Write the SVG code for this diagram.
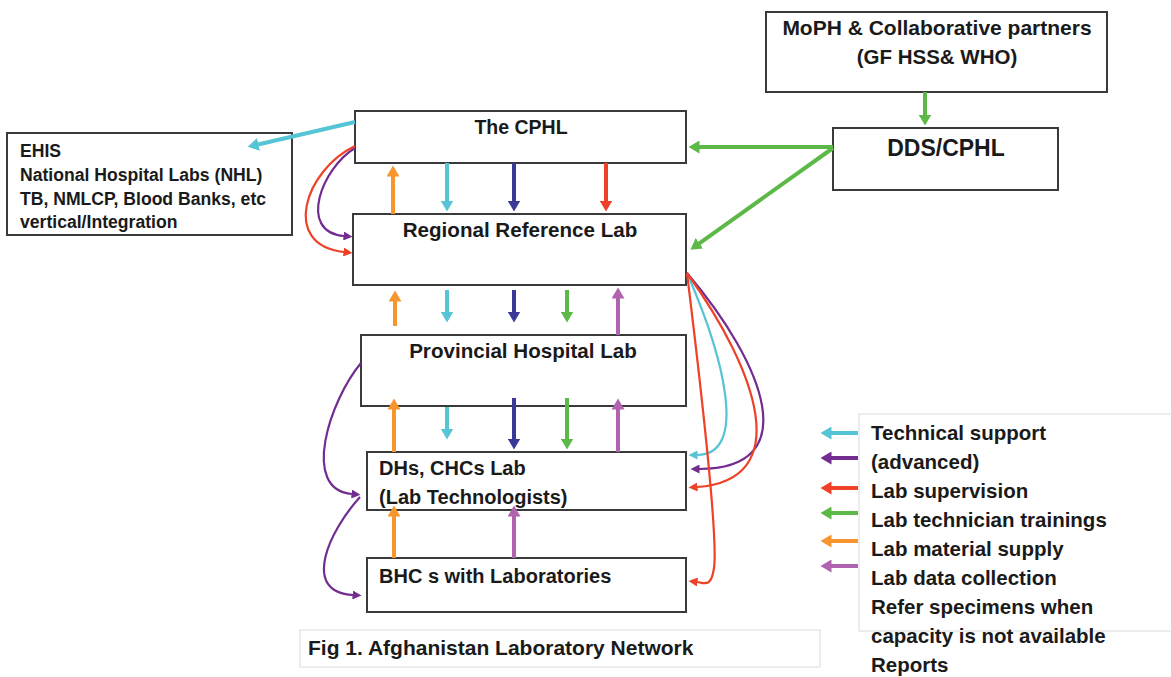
<svg xmlns="http://www.w3.org/2000/svg" width="1171" height="677" viewBox="0 0 1171 677">
<style>
text{font-family:"Liberation Sans",Arial,sans-serif;font-weight:bold;fill:#1a1a1a}
.box{fill:#fff;stroke:#3a3a3a;stroke-width:2}
.lbox{fill:#fff;stroke:#dcdcdc;stroke-width:1}
.t{stroke-width:4;fill:none}
.c{stroke-width:2.2;fill:none}
.or{stroke:#F7962F}.cy{stroke:#55C4D5}.nv{stroke:#393A97}.rd{stroke:#EE4127}.gr{stroke:#5DB947}.lp{stroke:#B064B0}.dp{stroke:#732C8F}
</style>
<defs>
<marker id="hor" markerUnits="userSpaceOnUse" markerWidth="12" markerHeight="13" refX="0.5" refY="6.5" orient="auto"><path d="M0,0 L11,6.5 L0,13 z" fill="#F7962F"/></marker>
<marker id="hcy" markerUnits="userSpaceOnUse" markerWidth="12" markerHeight="13" refX="0.5" refY="6.5" orient="auto"><path d="M0,0 L11,6.5 L0,13 z" fill="#55C4D5"/></marker>
<marker id="hnv" markerUnits="userSpaceOnUse" markerWidth="12" markerHeight="13" refX="0.5" refY="6.5" orient="auto"><path d="M0,0 L11,6.5 L0,13 z" fill="#393A97"/></marker>
<marker id="hrd" markerUnits="userSpaceOnUse" markerWidth="12" markerHeight="13" refX="0.5" refY="6.5" orient="auto"><path d="M0,0 L11,6.5 L0,13 z" fill="#EE4127"/></marker>
<marker id="hgr" markerUnits="userSpaceOnUse" markerWidth="12" markerHeight="13" refX="0.5" refY="6.5" orient="auto"><path d="M0,0 L11,6.5 L0,13 z" fill="#5DB947"/></marker>
<marker id="hlp" markerUnits="userSpaceOnUse" markerWidth="12" markerHeight="13" refX="0.5" refY="6.5" orient="auto"><path d="M0,0 L11,6.5 L0,13 z" fill="#B064B0"/></marker>
<marker id="hdp" markerUnits="userSpaceOnUse" markerWidth="12" markerHeight="13" refX="0.5" refY="6.5" orient="auto"><path d="M0,0 L11,6.5 L0,13 z" fill="#732C8F"/></marker>
<marker id="scy" markerUnits="userSpaceOnUse" markerWidth="10" markerHeight="9" refX="0.5" refY="4.5" orient="auto"><path d="M0,0 L9,4.5 L0,9 z" fill="#55C4D5"/></marker>
<marker id="srd" markerUnits="userSpaceOnUse" markerWidth="10" markerHeight="9" refX="0.5" refY="4.5" orient="auto"><path d="M0,0 L9,4.5 L0,9 z" fill="#EE4127"/></marker>
<marker id="sdp" markerUnits="userSpaceOnUse" markerWidth="10" markerHeight="9" refX="0.5" refY="4.5" orient="auto"><path d="M0,0 L9,4.5 L0,9 z" fill="#732C8F"/></marker>
</defs>

<g id="node-moph"><rect class="box" x="766" y="12" width="341" height="80"/>
<text x="937" y="35" font-size="21" text-anchor="middle">MoPH &amp; Collaborative partners</text>
<text x="937" y="64" font-size="20.5" text-anchor="middle">(GF HSS&amp; WHO)</text></g>

<g id="node-dds"><rect class="box" x="833" y="128" width="225" height="62"/>
<text x="946" y="156" font-size="23" text-anchor="middle">DDS/CPHL</text></g>

<g id="node-ehis"><rect class="box" x="7" y="133" width="285" height="102"/>
<text x="20" y="157" font-size="17.6">EHIS</text>
<text x="20" y="181" font-size="17.6">National Hospital Labs (NHL)</text>
<text x="20" y="205" font-size="17.6">TB, NMLCP, Blood Banks, etc</text>
<text x="20" y="228" font-size="17.6">vertical/Integration</text></g>

<g id="node-cphl"><rect class="box" x="355" y="111" width="331" height="52"/>
<text x="521" y="134" font-size="19.5" text-anchor="middle">The CPHL</text></g>

<g id="node-rrl"><rect class="box" x="353" y="214" width="333" height="71"/>
<text x="520" y="237" font-size="20.6" text-anchor="middle">Regional Reference Lab</text></g>

<g id="node-phl"><rect class="box" x="361" y="335" width="325" height="71"/>
<text x="523" y="358" font-size="20.6" text-anchor="middle">Provincial Hospital Lab</text></g>

<g id="node-dhs"><rect class="box" x="367" y="452" width="319" height="58"/>
<text x="379" y="475" font-size="20">DHs, CHCs Lab</text>
<text x="379" y="504" font-size="20">(Lab Technologists)</text></g>

<g id="node-bhc"><rect class="box" x="367" y="558" width="319" height="54"/>
<text x="379" y="583" font-size="20">BHC s with Laboratories</text></g>

<g id="connectors">
<line class="t or" x1="393" y1="214" x2="393" y2="176" marker-end="url(#hor)"/>
<line class="t cy" x1="447" y1="163" x2="447" y2="201" marker-end="url(#hcy)"/>
<line class="t nv" x1="514" y1="163" x2="514" y2="201" marker-end="url(#hnv)"/>
<line class="t rd" x1="606" y1="163" x2="606" y2="201" marker-end="url(#hrd)"/>
<line class="t or" x1="395" y1="326" x2="395" y2="301" marker-end="url(#hor)"/>
<line class="t cy" x1="447" y1="290" x2="447" y2="312" marker-end="url(#hcy)"/>
<line class="t nv" x1="514" y1="290" x2="514" y2="312" marker-end="url(#hnv)"/>
<line class="t gr" x1="567" y1="290" x2="567" y2="312" marker-end="url(#hgr)"/>
<line class="t lp" x1="618" y1="335" x2="618" y2="298" marker-end="url(#hlp)"/>
<line class="t or" x1="394" y1="452" x2="394" y2="409" marker-end="url(#hor)"/>
<line class="t cy" x1="447" y1="407" x2="447" y2="429" marker-end="url(#hcy)"/>
<line class="t nv" x1="514" y1="398" x2="514" y2="439" marker-end="url(#hnv)"/>
<line class="t gr" x1="567" y1="398" x2="567" y2="439" marker-end="url(#hgr)"/>
<line class="t lp" x1="618" y1="452" x2="618" y2="409" marker-end="url(#hlp)"/>
<line class="t or" x1="394" y1="558" x2="394" y2="516" marker-end="url(#hor)"/>
<line class="t lp" x1="514" y1="558" x2="514" y2="516" marker-end="url(#hlp)"/>
<line class="t cy" x1="355" y1="122" x2="258" y2="144.5" marker-end="url(#hcy)"/>
<line class="t gr" x1="925" y1="92" x2="925" y2="115" marker-end="url(#hgr)"/>
<line class="t gr" x1="833" y1="147" x2="699" y2="147" marker-end="url(#hgr)"/>
<line class="t gr" x1="833" y1="148" x2="699" y2="243.6" marker-end="url(#hgr)"/>
<path class="c dp" d="M355,148 C322,168 297,232 344,236" marker-end="url(#sdp)"/>
<path class="c rd" d="M355,146 C305,170 280,245 344,252" marker-end="url(#srd)"/>
<path class="c cy" d="M687,273 C725,360 748,455 697,455" marker-end="url(#scy)"/>
<path class="c dp" d="M687,273 C765,365 805,469 699,469" marker-end="url(#sdp)"/>
<path class="c rd" d="M687,273 C758,372 795,480 697,487" marker-end="url(#srd)"/>
<path class="c rd" d="M687,273 C705,420 718,540 714,568 C711,588 705,583 697,582" marker-end="url(#srd)"/>
<path class="c dp" d="M361,363 C330,400 300,490 352,494" marker-end="url(#sdp)"/>
<path class="c dp" d="M360,497 C330,530 300,592 353,595" marker-end="url(#sdp)"/>
</g>

<g id="legend">
<rect class="lbox" x="859" y="414" width="320" height="217"/>
<line class="t cy" x1="858" y1="433" x2="831" y2="433" marker-end="url(#hcy)"/>
<line class="t dp" x1="858" y1="458" x2="831" y2="458" marker-end="url(#hdp)"/>
<line class="t rd" x1="858" y1="488" x2="831" y2="488" marker-end="url(#hrd)"/>
<line class="t gr" x1="858" y1="513" x2="831" y2="513" marker-end="url(#hgr)"/>
<line class="t or" x1="858" y1="541" x2="831" y2="541" marker-end="url(#hor)"/>
<line class="t lp" x1="858" y1="566" x2="831" y2="566" marker-end="url(#hlp)"/>
<text x="871" y="440" font-size="20.5">Technical support</text>
<text x="871" y="469" font-size="20.5">(advanced)</text>
<text x="871" y="498" font-size="20.5">Lab supervision</text>
<text x="871" y="527" font-size="20.5">Lab technician trainings</text>
<text x="871" y="556" font-size="20.5">Lab material supply</text>
<text x="871" y="585" font-size="20.5">Lab data collection</text>
<text x="871" y="614" font-size="20.5">Refer specimens when</text>
<text x="871" y="643" font-size="20.5">capacity is not available</text>
<text x="871" y="672" font-size="20.5">Reports</text>
</g>

<g id="caption">
<rect class="lbox" x="300" y="630" width="520" height="37"/>
<text x="308" y="655" font-size="21">Fig 1. Afghanistan Laboratory Network</text>
</g>
</svg>
